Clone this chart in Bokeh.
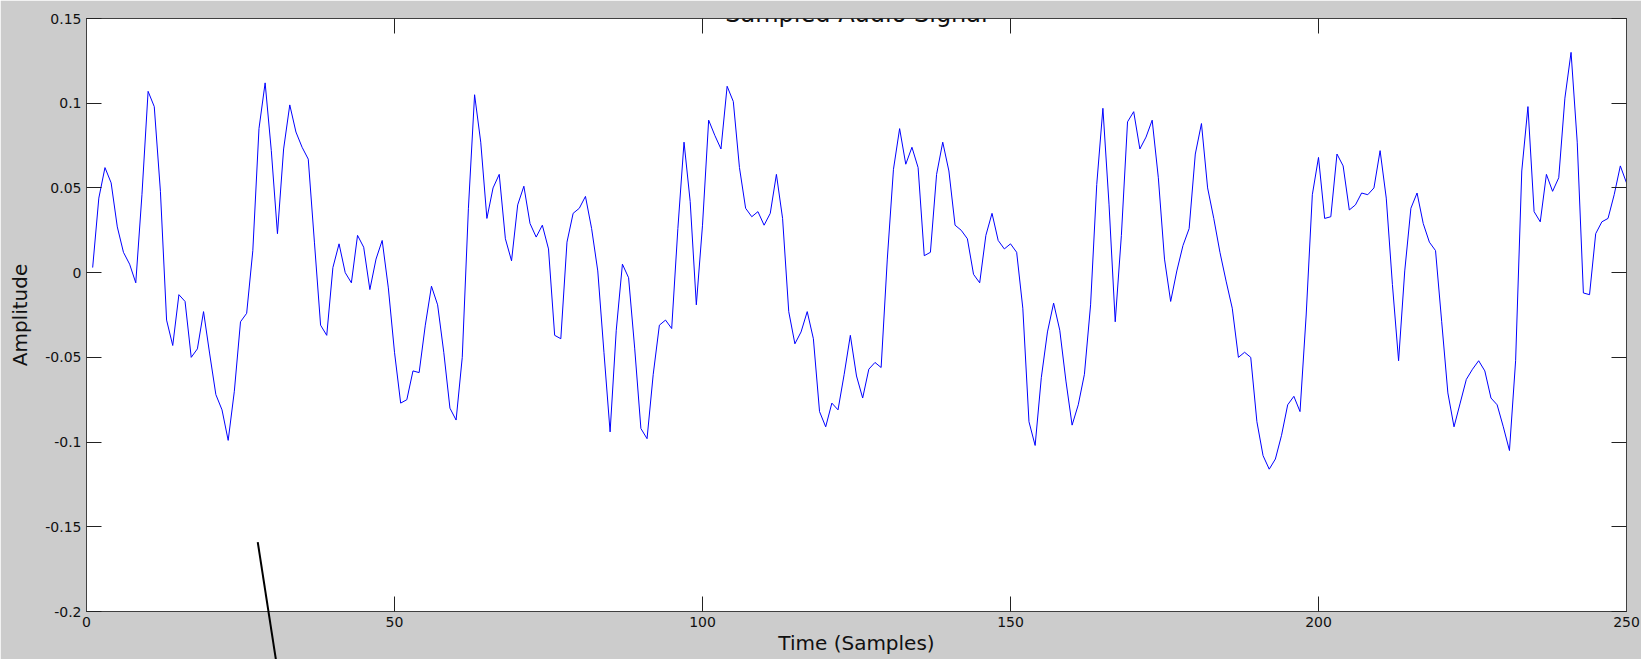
from bokeh.plotting import figure
from bokeh.models import Range1d, LinearAxis, Label, FixedTicker
from bokeh.embed import file_html
from bokeh.resources import INLINE

# ---- data -------------------------------------------------------------
sample_index = list(range(1, 251))
amplitude = [
    0.003, 0.044, 0.062, 0.053, 0.027, 0.012, 0.005, -0.006, 0.046, 0.107,
    0.098, 0.048, -0.028, -0.043, -0.013, -0.017, -0.050, -0.045, -0.023, -0.048,
    -0.072, -0.081, -0.099, -0.070, -0.029, -0.024, 0.013, 0.085, 0.112, 0.072,
    0.023, 0.073, 0.099, 0.083, 0.074, 0.067, 0.018, -0.031, -0.037, 0.003,
    0.017, 0.000, -0.006, 0.022, 0.015, -0.010, 0.008, 0.019, -0.009, -0.047,
    -0.077, -0.075, -0.058, -0.059, -0.031, -0.008, -0.019, -0.047, -0.080, -0.087,
    -0.050, 0.038, 0.105, 0.077, 0.032, 0.050, 0.058, 0.020, 0.007, 0.040,
    0.051, 0.029, 0.021, 0.028, 0.014, -0.037, -0.039, 0.018, 0.035, 0.038,
    0.045, 0.026, 0.001, -0.047, -0.094, -0.034, 0.005, -0.003, -0.045, -0.092,
    -0.098, -0.060, -0.031, -0.028, -0.033, 0.026, 0.077, 0.042, -0.019, 0.028,
    0.090, 0.081, 0.073, 0.110, 0.101, 0.062, 0.038, 0.033, 0.036, 0.028,
    0.035, 0.058, 0.032, -0.023, -0.042, -0.035, -0.023, -0.039, -0.082, -0.091,
    -0.077, -0.081, -0.060, -0.037, -0.061, -0.074, -0.057, -0.053, -0.056, 0.008,
    0.061, 0.085, 0.064, 0.074, 0.062, 0.010, 0.012, 0.058, 0.077, 0.060,
    0.028, 0.025, 0.020, -0.001, -0.006, 0.022, 0.035, 0.019, 0.014, 0.017,
    0.012, -0.021, -0.088, -0.102, -0.062, -0.035, -0.018, -0.034, -0.064, -0.090,
    -0.078, -0.060, -0.019, 0.052, 0.097, 0.040, -0.029, 0.022, 0.089, 0.095,
    0.073, 0.080, 0.090, 0.056, 0.008, -0.017, 0.001, 0.016, 0.026, 0.070,
    0.088, 0.050, 0.032, 0.012, -0.005, -0.021, -0.050, -0.047, -0.050, -0.088,
    -0.108, -0.116, -0.110, -0.096, -0.078, -0.073, -0.082, -0.025, 0.046, 0.068,
    0.032, 0.033, 0.070, 0.063, 0.037, 0.040, 0.047, 0.046, 0.050, 0.072,
    0.044, -0.007, -0.052, 0.001, 0.038, 0.047, 0.029, 0.018, 0.013, -0.029,
    -0.071, -0.091, -0.077, -0.063, -0.057, -0.052, -0.058, -0.074, -0.078, -0.091,
    -0.105, -0.052, 0.060, 0.098, 0.036, 0.030, 0.058, 0.048, 0.056, 0.103,
    0.130, 0.077, -0.012, -0.013, 0.023, 0.030, 0.032, 0.046, 0.063, 0.053,
]
x_ticks = [0, 50, 100, 150, 200, 250]
y_ticks = [-0.2, -0.15, -0.1, -0.05, 0, 0.05, 0.1, 0.15]
y_tick_labels = ["-0.2", "-0.15", "-0.1", "-0.05", "0", "0.05", "0.1", "0.15"]
title_text = "Sampled Audio Signal"
x_label = "Time (Samples)"
y_label = "Amplitude"
# stray pointer line (data coordinates, runs out of the axes to the window edge)
pointer_xs = [27.8, 30.9]
pointer_ys = [-0.159, -0.232]
# title anchor just above the top of the axes (it is cut by the window edge)
title_anchor = (125, 0.1524)

FONT = "DejaVu Sans"
TXT = "#111111"
FRAME = "#404040"

p = figure(width=1641, height=659, output_backend="svg", toolbar_location=None,
           x_range=Range1d(0, 250), y_range=Range1d(-0.2, 0.15),
           min_border_left=86, min_border_right=15, min_border_top=18,
           min_border_bottom=48,
           background_fill_color="white", border_fill_color="#cccccc")
p.grid.visible = False
p.outline_line_color = FRAME
p.outline_line_width = 1

p.line(sample_index, amplitude, line_color="#0000ff", line_width=1)

def style_axis(ax, ticks, show_labels=True):
    ax.ticker = FixedTicker(ticks=ticks)
    ax.major_tick_in = 15
    ax.major_tick_out = 0
    ax.minor_tick_line_color = None
    ax.axis_line_color = FRAME
    ax.major_tick_line_color = "#222222"
    ax.major_label_text_font = FONT
    if show_labels:
        ax.major_label_text_color = TXT
        ax.major_label_text_font_size = "14px"
        ax.major_label_standoff = 5
    else:
        ax.major_label_text_color = None
        ax.major_label_text_font_size = "1px"
        ax.major_label_standoff = 0

xa = p.xaxis[0]
style_axis(xa, x_ticks)
xa.axis_label = x_label
xa.axis_label_text_font = FONT
xa.axis_label_text_font_style = "normal"
xa.axis_label_text_font_size = "20px"
xa.axis_label_text_color = TXT
xa.axis_label_standoff = 1

ya = p.yaxis[0]
style_axis(ya, y_ticks)
ya.major_label_overrides = {t: s for t, s in zip(y_ticks, y_tick_labels)}
ya.axis_label = y_label
ya.axis_label_text_font = FONT
ya.axis_label_text_font_style = "normal"
ya.axis_label_text_font_size = "20px"
ya.axis_label_text_color = TXT
ya.axis_label_standoff = 10

ra = LinearAxis()
style_axis(ra, y_ticks, show_labels=False)
p.add_layout(ra, "right")
ta = LinearAxis()
style_axis(ta, x_ticks, show_labels=False)
p.add_layout(ta, "above")

p.add_layout(Label(x=title_anchor[0], y=title_anchor[1], text=title_text,
                   text_align="center", text_baseline="alphabetic",
                   text_font=FONT, text_font_size="24px", text_color=TXT))

# pointer line drawn at the overlay level so it may run past the axes box
p.line(pointer_xs, pointer_ys, line_color="black", line_width=2, level="overlay")

open("out.html", "w").write(file_html(p, INLINE))
